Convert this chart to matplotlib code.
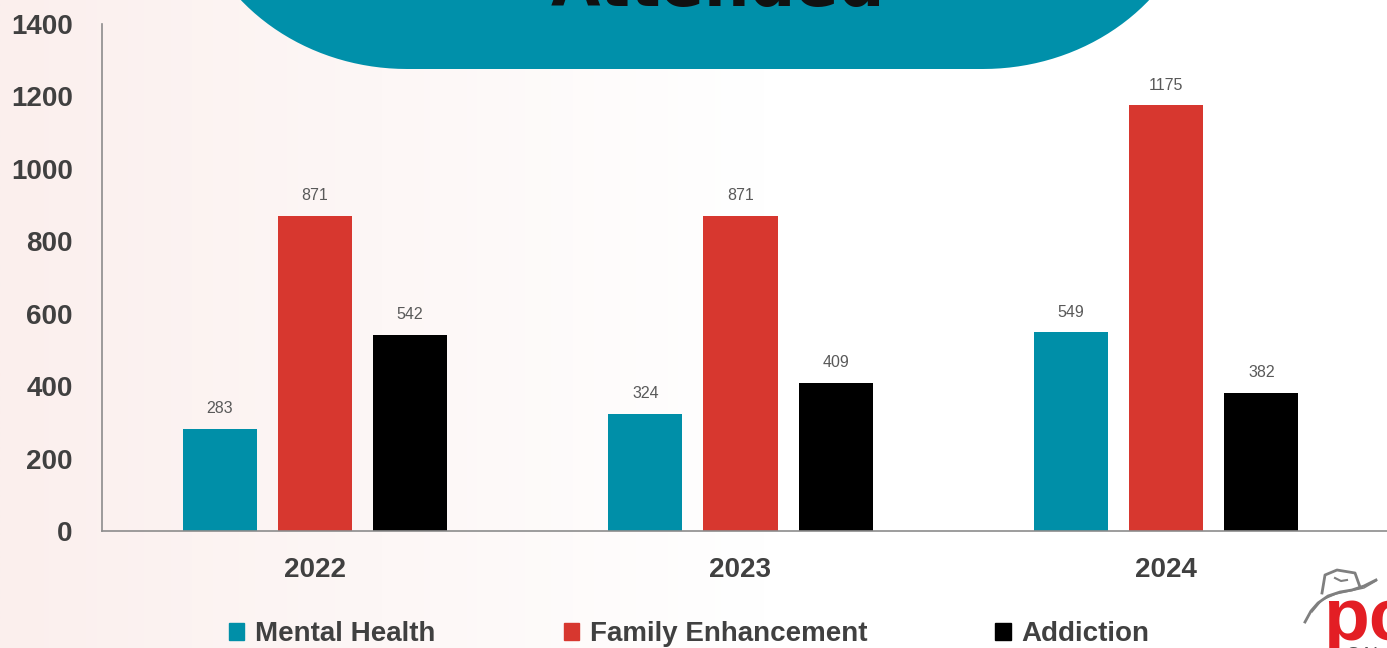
import numpy as np
import matplotlib
matplotlib.use('Agg')
import matplotlib.pyplot as plt
from matplotlib.patches import Patch, PathPatch
from matplotlib.path import Path

years = ['2022', '2023', '2024']
mental = [283, 324, 549]
family = [871, 871, 1175]
addiction = [542, 409, 382]
series_names = ['Mental Health', 'Family Enhancement', 'Addiction']
title_text = 'Attended'

teal, red, black = '#008FA8', '#D7372F', '#000000'
txt = '#404040'

plt.rcParams['font.family'] = ['Liberation Sans', 'DejaVu Sans']

W, H = 1387, 648
fig = plt.figure(figsize=(W / 100, H / 100), dpi=100)

# soft pink to white background
bg = fig.add_axes([0, 0, 1, 1], zorder=0)
grad = np.clip(np.linspace(0, 1, 600) / 0.55, 0, 1)[None, :]
c0 = np.array([251, 239, 237]) / 255
c1 = np.array([255, 255, 255]) / 255
img = c0[None, None, :] * (1 - grad[..., None]) + c1[None, None, :] * grad[..., None]
bg.imshow(img, aspect='auto', extent=[0, 1, 0, 1])
bg.axis('off')

# main chart
ax = fig.add_axes([102 / W, 1 - 531 / H, 1277 / W, (531 - 24) / H], zorder=1)
ax.patch.set_alpha(0)
x = np.arange(len(years))
bw, step = 0.174, 0.2235
for off, vals, col, name in zip([-step, 0, step], [mental, family, addiction],
                                [teal, red, black], series_names):
    bars = ax.bar(x + off, vals, width=bw, color=col, label=name)
    ax.bar_label(bars, padding=9, fontsize=11.5, color='#595959')

ax.set_xlim(-0.5, 2.5)
ax.set_ylim(0, 1400)
ax.set_yticks(range(0, 1401, 200))
ax.set_xticks(x)
ax.set_xticklabels(years)
for s in ['top', 'right']:
    ax.spines[s].set_visible(False)
ax.spines['left'].set_color('#8c8c8c')
ax.spines['left'].set_linewidth(1.2)
ax.spines['bottom'].set_color('#8c8c8c')
ax.spines['bottom'].set_linewidth(1.2)
ax.spines['bottom'].set_bounds(-0.5, 2.52)
ax.tick_params(axis='y', length=0, pad=21, labelsize=20, labelcolor=txt)
ax.tick_params(axis='x', length=0, pad=19, labelsize=20, labelcolor=txt)
for lab in ax.get_xticklabels() + ax.get_yticklabels():
    lab.set_fontweight('bold')

handles = [Patch(color=c) for c in [teal, red, black]]
leg = fig.legend(handles, series_names, loc='center', bbox_to_anchor=(0.497, 1 - 634 / H),
                 ncol=3, frameon=False, fontsize=20, handlelength=0.55, handleheight=0.55,
                 handletextpad=0.4, columnspacing=4.6, labelcolor=txt)
for t in leg.get_texts():
    t.set_fontweight('bold')

# overlay in pixel coordinates: banner and logo
ov = fig.add_axes([0, 0, 1, 1], zorder=2)
ov.set_xlim(0, W)
ov.set_ylim(H, 0)
ov.axis('off')

a, b = 220, 200
left, right, bottom, top = 187, 1203, 69, -400
t = np.linspace(0, np.pi / 2, 40)
bl = [(left + a - a * np.sin(tt), bottom - b + b * np.cos(tt)) for tt in t][::-1]
br = [(right - a + a * np.sin(tt), bottom - b + b * np.cos(tt)) for tt in t]
pts = [(left, top)] + bl + br + [(right, top), (left, top)]
ov.add_patch(PathPatch(Path(pts), facecolor='#0090AA', edgecolor='none'))
ov.text(718, 6, title_text, ha='center', va='baseline', fontsize=46,
        fontweight='bold', color='#111111', family=['DejaVu Sans'])

# logo corner
gray = '#7f7f7f'
ov.plot([1305, 1311, 1318, 1328, 1340, 1352, 1364, 1376],
        [622, 611, 603, 596, 592, 590, 586, 580], color=gray, lw=2)
ov.plot([1312, 1322, 1336, 1350, 1364, 1376],
        [612, 600, 594, 591, 588, 581], color=gray, lw=1)
ov.plot([1322, 1325, 1337, 1355, 1360], [593, 575, 570, 573, 587], color=gray, lw=2)
ov.plot([1335, 1341, 1347], [578, 581, 580], color=gray, lw=1.5)
ov.text(1323, 640, 'pc', fontsize=54, fontweight='bold', color='#E31E24', va='baseline')
ov.text(1346, 660, 'CAL', fontsize=14, color='#555555', va='baseline')

fig.savefig('out.png', dpi=100)
